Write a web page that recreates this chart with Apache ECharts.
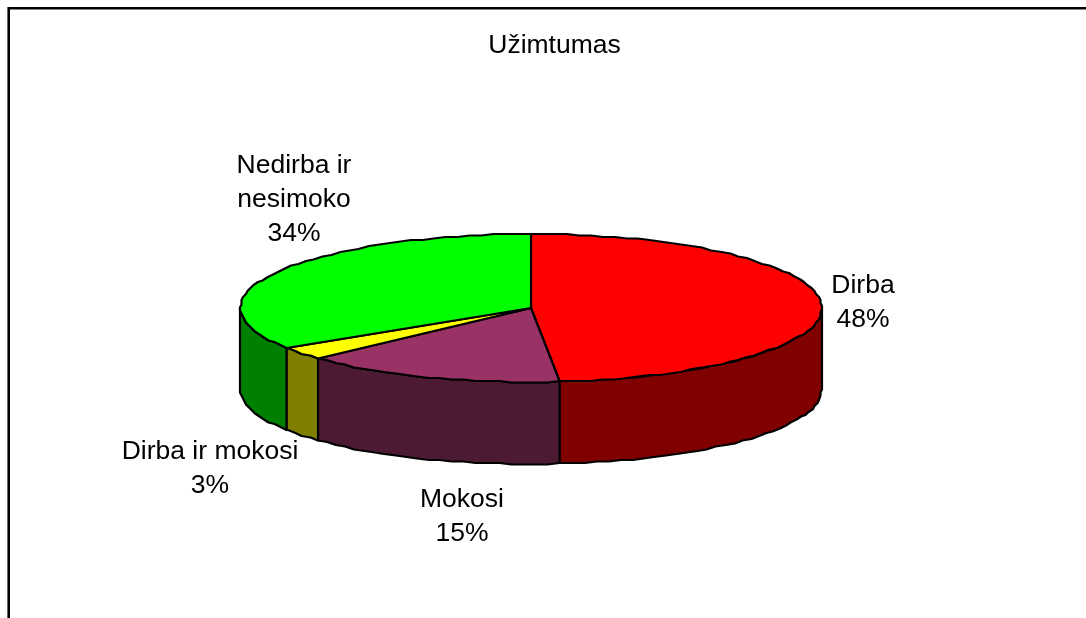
<!DOCTYPE html>
<html><head><meta charset="utf-8">
<style>html,body{margin:0;padding:0;background:#fff;overflow:hidden}#c{width:1086px;height:618px}</style>
<script src="https://cdn.jsdelivr.net/npm/echarts@6/dist/echarts.min.js"></script>
</head><body><div id="c"></div>
<script>
const titleText = 'Užimtumas';
const categories = ['Dirba', 'Mokosi', 'Dirba ir mokosi', 'Nedirba ir\nnesimoko'];
const shares = [48.4, 14.7, 2.8, 34.1];
const topColors = ['#FF0000', '#993366', '#FFFF00', '#00FF00'];
const sideColors = ['#800000', '#4D1A33', '#808000', '#008000'];
const labelAnchors = [[863, 303], [462, 517], [210, 469], [294, 200]];

const CX = 531, CY = 308, RX = 290.5, RY = 74, DEPTH = 82, STEP = 2.4, GRID = 1.5;
const total = shares.reduce((a, b) => a + b, 0);
const snap = v => Math.round(v / GRID) * GRID;
const pt = (deg, dy) => {
  const t = deg * Math.PI / 180;
  return [snap(CX + RX * Math.sin(t)), snap(CY - RY * Math.cos(t)) + (dy || 0)];
};
const arc = (from, to, dy) => {
  const out = [];
  for (let d = from; d < to; d += STEP) out.push(pt(d, dy));
  out.push(pt(to, dy));
  return out;
};

const chart = echarts.init(document.getElementById('c'), null, { renderer: 'canvas' });
chart.setOption({
  animation: false,
  backgroundColor: '#fff',
  title: {
    text: titleText, left: 549.5, top: 27, textAlign: 'center',
    textStyle: { fontFamily: 'Liberation Sans', fontSize: 26.5, fontWeight: 'normal', color: '#000' }
  },
  graphic: [{
    type: 'polyline', silent: true, z: 0,
    shape: { points: [[8.7, 640], [8.7, 8.2], [1110, 8.2]] },
    style: { stroke: '#000', lineWidth: 2.6, fill: null }
  }],
  series: [{
    type: 'custom',
    coordinateSystem: 'none',
    silent: true,
    data: shares.map((v, i) => ({ name: categories[i], value: [v, i] })),
    renderItem: (params, api) => {
      const i = api.value(1);
      const before = shares.slice(0, i).reduce((a, b) => a + b, 0);
      const a0 = before / total * 360, a1 = (before + api.value(0)) / total * 360;
      const children = [];
      const s0 = Math.max(a0, 90), s1 = Math.min(a1, 270);
      if (s1 > s0) {
        const upper = arc(s0, s1, 0), lower = arc(s0, s1, DEPTH).reverse();
        children.push({
          type: 'polygon', shape: { points: upper.concat(lower) },
          style: { fill: sideColors[i], stroke: '#000', lineWidth: 2.2, lineJoin: 'round' }
        });
      }
      children.push({
        type: 'polygon', shape: { points: [[CX, CY]].concat(arc(a0, a1, 0)) },
        style: { fill: topColors[i], stroke: '#000', lineWidth: 2.2, lineJoin: 'round' }
      });
      children.push({
        type: 'text',
        style: {
          text: categories[i] + '\n' + Math.round(api.value(0)) + '%',
          x: labelAnchors[i][0], y: labelAnchors[i][1],
          align: 'center', verticalAlign: 'middle',
          fontFamily: 'Liberation Sans', fontSize: 26.5, lineHeight: 34, fill: '#000'
        }
      });
      return { type: 'group', children };
    }
  }]
});
</script></body></html>
